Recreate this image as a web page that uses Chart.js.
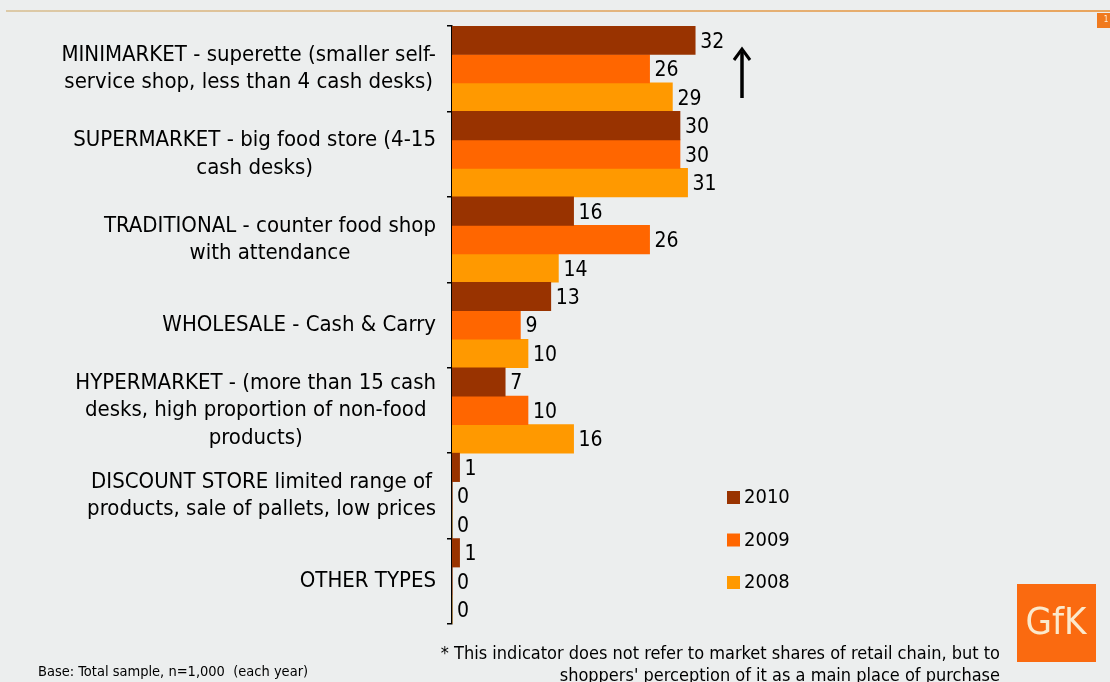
<!DOCTYPE html>
<html>
<head>
<meta charset="utf-8">
<script src="https://cdn.jsdelivr.net/npm/chart.js@4/dist/chart.umd.min.js"></script>
<style>
  html, body { margin: 0; padding: 0; background: #eceeee; }
  #wrap { width: 1110px; height: 682px; position: relative; overflow: hidden; }
</style>
</head>
<body>
<div id="wrap">
  <canvas id="shopChart" width="1110" height="682"></canvas>
</div>
<script>
const categories = [
    ['MINIMARKET - superette (smaller self-', 'service shop, less than 4 cash desks)'],
    ['SUPERMARKET - big food store (4-15', 'cash desks)'],
    ['TRADITIONAL - counter food shop', 'with attendance'],
    ['WHOLESALE - Cash & Carry'],
    ['HYPERMARKET - (more than 15 cash', 'desks, high proportion of non-food', 'products)'],
    ['DISCOUNT STORE limited range of', 'products, sale of pallets, low prices'],
    ['OTHER TYPES']
]
const years = ['2010', '2009', '2008']
const values2010 = [32, 30, 16, 13, 7, 1, 1]
const values2009 = [26, 30, 26, 9, 10, 0, 0]
const values2008 = [29, 31, 14, 10, 16, 0, 0]
const baseNote = 'Base: Total sample, n=1,000  (each year)'
const starNote = [
    '* This indicator does not refer to market shares of retail chain, but to',
    "shoppers' perception of it as a main place of purchase"
]

const colors = ['#993300', '#FF6600', '#FF9900']
const FONT = '"DejaVu Sans Condensed", "DejaVu Sans", sans-serif'

// category labels, value labels, legend and page furniture
const decorations = {
    id: 'decorations',
    beforeDraw(chart) {
        const ctx = chart.ctx
        ctx.save()
        const grad = ctx.createLinearGradient(0, 0, 1110, 0)
        grad.addColorStop(0, '#dccaa8')
        grad.addColorStop(1, '#e9a45c')
        ctx.strokeStyle = grad
        ctx.lineWidth = 2
        ctx.beginPath()
        ctx.moveTo(6, 11)
        ctx.lineTo(1110, 11)
        ctx.stroke()
        ctx.fillStyle = '#f07a1e'
        ctx.fillRect(1097, 13, 13, 15)
        ctx.fillStyle = '#fff2dd'
        ctx.font = '8px ' + FONT
        ctx.textAlign = 'center'
        ctx.textBaseline = 'middle'
        ctx.fillText('1', 1106, 20)
        ctx.restore()
    },
    afterDraw(chart) {
        const ctx = chart.ctx
        const yScale = chart.scales.y
        ctx.save()

        // category labels: block right-aligned, lines centred in the block
        ctx.fillStyle = '#000'
        ctx.font = '22px ' + FONT
        ctx.textBaseline = 'middle'
        ctx.textAlign = 'center'
        const lineH = 27.5
        const rightEdge = 436
        categories.forEach((lines, i) => {
            const cy = yScale.getPixelForValue(i)
            const w = Math.max(...lines.map(l => ctx.measureText(l).width))
            const cx = rightEdge - w / 2
            lines.forEach((l, j) => {
                ctx.fillText(l, cx, cy + (j - (lines.length - 1) / 2) * lineH)
            })
        })

        // value labels
        ctx.font = '21px ' + FONT
        ctx.textAlign = 'left'
        chart.data.datasets.forEach((ds, di) => {
            chart.getDatasetMeta(di).data.forEach((bar, i) => {
                ctx.fillText(String(ds.data[i]), bar.x + 5, bar.y + 2)
            })
        })

        // legend
        ctx.font = '20px ' + FONT
        years.forEach((yr, i) => {
            const y = 497 + i * 42.5
            ctx.fillStyle = colors[i]
            ctx.fillRect(727, y - 6, 13, 13)
            ctx.fillStyle = '#000'
            ctx.fillText(yr, 744, y + 1)
        })

        // arrow
        ctx.strokeStyle = '#000'
        ctx.fillStyle = '#000'
        ctx.lineWidth = 3.5
        ctx.beginPath()
        ctx.moveTo(742, 98)
        ctx.lineTo(742, 52)
        ctx.stroke()
        ctx.lineWidth = 3
        ctx.beginPath()
        ctx.moveTo(734, 60)
        ctx.lineTo(742, 49)
        ctx.lineTo(750, 60)
        ctx.stroke()

        // notes
        ctx.font = '14.5px ' + FONT
        ctx.fillText(baseNote, 38, 672)
        ctx.font = '18px ' + FONT
        ctx.textAlign = 'right'
        ctx.fillText(starNote[0], 1000, 654)
        ctx.fillText(starNote[1], 1000, 676)

        // logo
        ctx.fillStyle = '#fa6a10'
        ctx.fillRect(1017, 584, 79, 78)
        ctx.fillStyle = '#fbe9cc'
        ctx.font = '38px ' + FONT
        ctx.textAlign = 'center'
        ctx.fillText('GfK', 1056, 624)

        ctx.restore()
    }
}

new Chart(document.getElementById('shopChart').getContext('2d'), {
    type: 'bar',
    data: {
        labels: categories,
        datasets: [
            { label: years[0], data: values2010, backgroundColor: colors[0] },
            { label: years[1], data: values2009, backgroundColor: colors[1] },
            { label: years[2], data: values2008, backgroundColor: colors[2] }
        ]
    },
    options: {
        indexAxis: 'y',
        responsive: false,
        animation: false,
        categoryPercentage: 1.0,
        barPercentage: 1.0,
        layout: {
            padding: { left: 0, top: 26, bottom: 58, right: 354 }
        },
        plugins: {
            legend: { display: false },
            tooltip: { enabled: false }
        },
        scales: {
            x: {
                display: false,
                min: 0,
                max: 40
            },
            y: {
                afterFit: (scale) => { scale.width = 452 },
                ticks: { display: false },
                grid: {
                    offset: true,
                    drawOnChartArea: false,
                    drawTicks: true,
                    tickLength: 5,
                    color: '#000',
                    lineWidth: 1.5
                },
                border: { display: true, color: '#000', width: 1.5 }
            }
        }
    },
    plugins: [decorations]
});
</script>
</body>
</html>
